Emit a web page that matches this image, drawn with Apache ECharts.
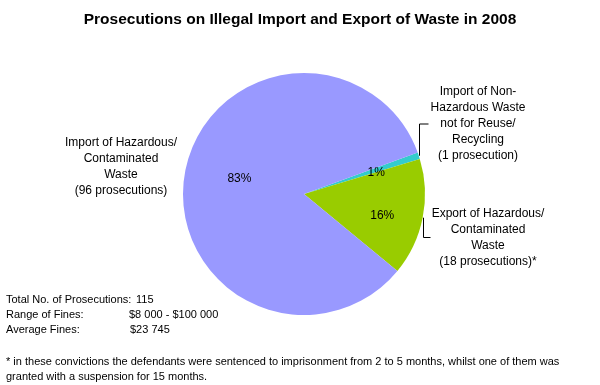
<!DOCTYPE html>
<html>
<head>
<meta charset="utf-8">
<script src="https://cdn.jsdelivr.net/npm/echarts@6/dist/echarts.min.js"></script>
<style>html,body{margin:0;padding:0;background:#fff}#c{width:600px;height:385px}</style>
</head>
<body>
<div id="c"></div>
<script>
// ---- data ----
const categories = [
  'Import of Non-\nHazardous Waste\nnot for Reuse/\nRecycling',
  'Export of Hazardous/\nContaminated\nWaste',
  'Import of Hazardous/\nContaminated\nWaste'
];
const prosecutions = [1, 18, 96];
const categoryMarks = ['', '*', ''];
const fineRange = '$8 000 - $100 000';
const averageFine = '$23 745';
const footnoteLines = [
  '* in these convictions the defendants were sentenced to imprisonment from 2 to 5 months, whilst one of them was',
  'granted with a suspension for 15 months.'
];
const chartTitle = 'Prosecutions on Illegal Import and Export of Waste in 2008';

// ---- styles / layout ----
const colors = ['#33CCCC', '#99CC00', '#9999FF'];
const FONT = '"Liberation Sans", Arial, sans-serif';
const pctOffsets = [[12, -1], [16, 9], [-2, -5]];
const outerLabelPos = [[478, 124], [488, 237.5], [121, 166.5]];
const showLeader = [true, true, false];
const leaderElbow = [9, 7, 0];

const total = prosecutions.reduce((a, b) => a + b, 0);

const pieData = categories.map((c, i) => ({
  name: c,
  value: prosecutions[i],
  itemStyle: { color: colors[i] }
}));

const outerData = categories.map((c, i) => ({
  name: c,
  value: prosecutions[i],
  labelLine: { show: showLeader[i] }
}));

const chart = echarts.init(document.getElementById('c'), null, { renderer: 'canvas' });

chart.setOption({
  animation: false,
  backgroundColor: '#fff',
  title: {
    text: chartTitle,
    left: 'center',
    top: 12,
    padding: 0,
    textStyle: { fontFamily: FONT, fontSize: 15.5, fontWeight: 'bold', color: '#000' }
  },
  series: [
    {
      type: 'pie',
      center: [304, 194],
      radius: 121,
      startAngle: 20,
      clockwise: true,
      avoidLabelOverlap: false,
      percentPrecision: 0,
      silent: true,
      data: pieData,
      itemStyle: { borderWidth: 0 },
      label: {
        show: true,
        position: 'inside',
        formatter: '{d}%',
        fontFamily: FONT,
        fontSize: 12,
        color: '#000'
      },
      labelLine: { show: false },
      labelLayout: function (p) {
        const o = pctOffsets[p.dataIndex];
        const r = p.labelRect;
        return {
          x: r.x + r.width / 2 + o[0],
          y: r.y + r.height / 2 + o[1],
          align: 'center',
          verticalAlign: 'middle'
        };
      },
      emphasis: { disabled: true }
    },
    {
      type: 'pie',
      center: [304, 194],
      radius: 121,
      startAngle: 20,
      clockwise: true,
      avoidLabelOverlap: false,
      silent: true,
      data: outerData,
      itemStyle: { color: 'rgba(0,0,0,0)', borderWidth: 0 },
      label: {
        show: true,
        position: 'outside',
        formatter: function (p) {
          const v = p.value;
          return p.name + '\n(' + v + ' prosecution' + (v > 1 ? 's' : '') + ')' + categoryMarks[p.dataIndex];
        },
        fontFamily: FONT,
        fontSize: 12,
        lineHeight: 16,
        color: '#000',
        align: 'center'
      },
      labelLine: {
        show: true,
        length: 5,
        length2: 5,
        smooth: false,
        lineStyle: { color: '#000', width: 1 }
      },
      labelLayout: function (p) {
        const i = p.dataIndex;
        const pos = outerLabelPos[i];
        const res = { x: pos[0], y: pos[1], align: 'center', verticalAlign: 'middle' };
        if (showLeader[i] && p.labelLinePoints) {
          const s = p.labelLinePoints[0];
          const sx = Math.round(s[0]) + 0.5;
          res.labelLinePoints = [[sx, s[1]], [sx, pos[1]], [sx + leaderElbow[i], pos[1]]];
        }
        return res;
      },
      emphasis: { disabled: true }
    }
  ],
  graphic: [
    { type: 'text', x: 6, y: 300, style: { text: 'Total No. of Prosecutions:', font: '11px ' + FONT, fill: '#000', verticalAlign: 'middle' } },
    { type: 'text', x: 136, y: 300, style: { text: String(total), font: '11px ' + FONT, fill: '#000', verticalAlign: 'middle' } },
    { type: 'text', x: 6, y: 315, style: { text: 'Range of Fines:', font: '11px ' + FONT, fill: '#000', verticalAlign: 'middle' } },
    { type: 'text', x: 129, y: 315, style: { text: fineRange, font: '11px ' + FONT, fill: '#000', verticalAlign: 'middle' } },
    { type: 'text', x: 6, y: 330, style: { text: 'Average Fines:', font: '11px ' + FONT, fill: '#000', verticalAlign: 'middle' } },
    { type: 'text', x: 130, y: 330, style: { text: averageFine, font: '11px ' + FONT, fill: '#000', verticalAlign: 'middle' } },
    { type: 'text', x: 6, y: 362, style: { text: footnoteLines[0], font: '11px ' + FONT, fill: '#000', verticalAlign: 'middle' } },
    { type: 'text', x: 6, y: 377, style: { text: footnoteLines[1], font: '11px ' + FONT, fill: '#000', verticalAlign: 'middle' } }
  ]
});
</script>
</body>
</html>
